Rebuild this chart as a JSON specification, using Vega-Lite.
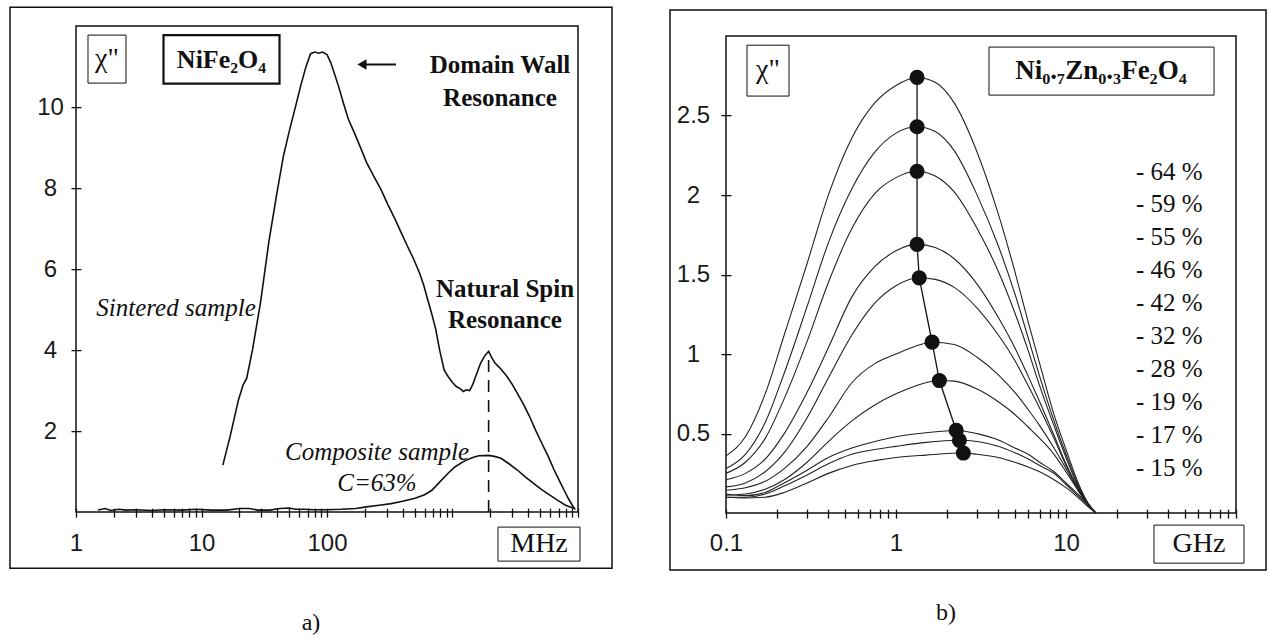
{
  "$schema": "https://vega.github.io/schema/vega-lite/v6.json",
  "padding": {"left": 8, "top": 5, "right": 0, "bottom": 0},
  "background": "white",
  "spacing": 54,
  "bounds": "full",
  "center": true,
  "config": {
    "view": {"stroke": "#111", "strokeWidth": 1.5},
    "axis": {"grid": false, "domain": false, "tickColor": "#111", "tickWidth": 1.3, "labelFont": "Liberation Sans", "labelFontSize": 24, "labelColor": "#1a1a1a", "labelOverlap": false, "labelFlush": false},
    "text": {"font": "Liberation Serif", "color": "#111"}
  },
  "datasets": {
    "nife": [
      {"s":"sintered","f":14.8,"chi":1.16},{"s":"sintered","f":17,"chi":1.9},{"s":"sintered","f":19.7,"chi":2.77},{"s":"sintered","f":21.5,"chi":3.15},{"s":"sintered","f":22.9,"chi":3.3},{"s":"sintered","f":25.5,"chi":4.01},{"s":"sintered","f":29.6,"chi":5.2},{"s":"sintered","f":34.5,"chi":6.7},{"s":"sintered","f":40,"chi":7.9},{"s":"sintered","f":45,"chi":8.8},{"s":"sintered","f":50,"chi":9.4},{"s":"sintered","f":56,"chi":10.0},{"s":"sintered","f":62,"chi":10.55},{"s":"sintered","f":68,"chi":11.0},{"s":"sintered","f":74,"chi":11.32},{"s":"sintered","f":80,"chi":11.36},{"s":"sintered","f":86,"chi":11.33},{"s":"sintered","f":92,"chi":11.36},{"s":"sintered","f":100,"chi":11.3},{"s":"sintered","f":107,"chi":11.1},{"s":"sintered","f":114,"chi":10.85},{"s":"sintered","f":124,"chi":10.5},{"s":"sintered","f":135,"chi":10.1},{"s":"sintered","f":148,"chi":9.7},{"s":"sintered","f":165,"chi":9.37},{"s":"sintered","f":185,"chi":9.0},{"s":"sintered","f":207,"chi":8.63},{"s":"sintered","f":235,"chi":8.3},{"s":"sintered","f":269,"chi":7.97},{"s":"sintered","f":305,"chi":7.6},{"s":"sintered","f":349,"chi":7.23},{"s":"sintered","f":390,"chi":6.9},{"s":"sintered","f":437,"chi":6.57},{"s":"sintered","f":490,"chi":6.25},{"s":"sintered","f":547,"chi":5.9},{"s":"sintered","f":590,"chi":5.6},{"s":"sintered","f":634,"chi":5.25},{"s":"sintered","f":690,"chi":4.85},{"s":"sintered","f":737,"chi":4.5},{"s":"sintered","f":790,"chi":4.0},{"s":"sintered","f":857,"chi":3.51},{"s":"sintered","f":922,"chi":3.35},{"s":"sintered","f":1000,"chi":3.2},{"s":"sintered","f":1071,"chi":3.1},{"s":"sintered","f":1150,"chi":3.05},{"s":"sintered","f":1220,"chi":2.98},{"s":"sintered","f":1290,"chi":3.02},{"s":"sintered","f":1370,"chi":3.0},{"s":"sintered","f":1445,"chi":3.14},{"s":"sintered","f":1550,"chi":3.4},{"s":"sintered","f":1676,"chi":3.68},{"s":"sintered","f":1800,"chi":3.85},{"s":"sintered","f":1940,"chi":3.97},{"s":"sintered","f":2050,"chi":3.82},{"s":"sintered","f":2180,"chi":3.68},{"s":"sintered","f":2400,"chi":3.55},{"s":"sintered","f":2718,"chi":3.35},{"s":"sintered","f":3000,"chi":3.15},{"s":"sintered","f":3288,"chi":2.93},{"s":"sintered","f":3700,"chi":2.65},{"s":"sintered","f":4112,"chi":2.36},{"s":"sintered","f":4600,"chi":2.02},{"s":"sintered","f":5145,"chi":1.7},{"s":"sintered","f":5800,"chi":1.37},{"s":"sintered","f":6457,"chi":1.04},{"s":"sintered","f":7100,"chi":0.78},{"s":"sintered","f":7760,"chi":0.54},{"s":"sintered","f":8400,"chi":0.33},{"s":"sintered","f":9010,"chi":0.17},{"s":"sintered","f":9500,"chi":0.06},
      {"s":"composite","f":1.5,"chi":0.05},{"s":"composite","f":1.7,"chi":0.09},{"s":"composite","f":1.9,"chi":0.04},{"s":"composite","f":2.2,"chi":0.07},{"s":"composite","f":2.5,"chi":0.05},{"s":"composite","f":3,"chi":0.06},{"s":"composite","f":4,"chi":0.04},{"s":"composite","f":5,"chi":0.06},{"s":"composite","f":7,"chi":0.05},{"s":"composite","f":9,"chi":0.07},{"s":"composite","f":12,"chi":0.05},{"s":"composite","f":16,"chi":0.05},{"s":"composite","f":20,"chi":0.09},{"s":"composite","f":24,"chi":0.09},{"s":"composite","f":28,"chi":0.05},{"s":"composite","f":35,"chi":0.05},{"s":"composite","f":42,"chi":0.09},{"s":"composite","f":50,"chi":0.1},{"s":"composite","f":56,"chi":0.07},{"s":"composite","f":65,"chi":0.07},{"s":"composite","f":80,"chi":0.06},{"s":"composite","f":100,"chi":0.06},{"s":"composite","f":130,"chi":0.07},{"s":"composite","f":170,"chi":0.09},{"s":"composite","f":206,"chi":0.13},{"s":"composite","f":260,"chi":0.17},{"s":"composite","f":324,"chi":0.21},{"s":"composite","f":400,"chi":0.27},{"s":"composite","f":503,"chi":0.34},{"s":"composite","f":600,"chi":0.43},{"s":"composite","f":684,"chi":0.54},{"s":"composite","f":800,"chi":0.76},{"s":"composite","f":922,"chi":0.96},{"s":"composite","f":1050,"chi":1.12},{"s":"composite","f":1240,"chi":1.26},{"s":"composite","f":1450,"chi":1.35},{"s":"composite","f":1620,"chi":1.39},{"s":"composite","f":1950,"chi":1.4},{"s":"composite","f":2200,"chi":1.37},{"s":"composite","f":2434,"chi":1.33},{"s":"composite","f":2800,"chi":1.2},{"s":"composite","f":3288,"chi":1.04},{"s":"composite","f":3800,"chi":0.87},{"s":"composite","f":4427,"chi":0.71},{"s":"composite","f":5100,"chi":0.56},{"s":"composite","f":5970,"chi":0.42},{"s":"composite","f":6900,"chi":0.29},{"s":"composite","f":7950,"chi":0.17},{"s":"composite","f":9340,"chi":0.09}
    ],
    "nizn": [
      {"c":"64","f":0.1,"chi":0.36},{"c":"64","f":0.13,"chi":0.48},{"c":"64","f":0.17,"chi":0.75},{"c":"64","f":0.22,"chi":1.12},{"c":"64","f":0.3,"chi":1.57},{"c":"64","f":0.4,"chi":2.0},{"c":"64","f":0.55,"chi":2.36},{"c":"64","f":0.75,"chi":2.58},{"c":"64","f":1.0,"chi":2.69},{"c":"64","f":1.33,"chi":2.74},{"c":"64","f":1.7,"chi":2.71},{"c":"64","f":2.2,"chi":2.58},{"c":"64","f":3,"chi":2.27},{"c":"64","f":4,"chi":1.88},{"c":"64","f":5,"chi":1.52},{"c":"64","f":6,"chi":1.2},{"c":"64","f":7,"chi":0.94},{"c":"64","f":8.5,"chi":0.62},{"c":"64","f":10,"chi":0.4},{"c":"64","f":12,"chi":0.17},{"c":"64","f":13.5,"chi":0.06},{"c":"64","f":15,"chi":0.0},
      {"c":"59","f":0.1,"chi":0.28},{"c":"59","f":0.13,"chi":0.37},{"c":"59","f":0.17,"chi":0.57},{"c":"59","f":0.22,"chi":0.88},{"c":"59","f":0.3,"chi":1.3},{"c":"59","f":0.4,"chi":1.7},{"c":"59","f":0.55,"chi":2.04},{"c":"59","f":0.75,"chi":2.27},{"c":"59","f":1.0,"chi":2.39},{"c":"59","f":1.33,"chi":2.43},{"c":"59","f":1.7,"chi":2.4},{"c":"59","f":2.2,"chi":2.28},{"c":"59","f":3,"chi":2.0},{"c":"59","f":4,"chi":1.68},{"c":"59","f":5,"chi":1.38},{"c":"59","f":6,"chi":1.1},{"c":"59","f":7,"chi":0.86},{"c":"59","f":8.5,"chi":0.58},{"c":"59","f":10,"chi":0.37},{"c":"59","f":12,"chi":0.16},{"c":"59","f":13.5,"chi":0.06},{"c":"59","f":15,"chi":0.0},
      {"c":"55","f":0.1,"chi":0.25},{"c":"55","f":0.13,"chi":0.32},{"c":"55","f":0.17,"chi":0.47},{"c":"55","f":0.22,"chi":0.72},{"c":"55","f":0.3,"chi":1.08},{"c":"55","f":0.4,"chi":1.45},{"c":"55","f":0.55,"chi":1.79},{"c":"55","f":0.75,"chi":2.01},{"c":"55","f":1.0,"chi":2.11},{"c":"55","f":1.33,"chi":2.15},{"c":"55","f":1.7,"chi":2.12},{"c":"55","f":2.2,"chi":2.02},{"c":"55","f":3,"chi":1.79},{"c":"55","f":4,"chi":1.52},{"c":"55","f":5,"chi":1.26},{"c":"55","f":6,"chi":1.02},{"c":"55","f":7,"chi":0.8},{"c":"55","f":8.5,"chi":0.55},{"c":"55","f":10,"chi":0.35},{"c":"55","f":12,"chi":0.15},{"c":"55","f":13.5,"chi":0.06},{"c":"55","f":15,"chi":0.0},
      {"c":"46","f":0.1,"chi":0.21},{"c":"46","f":0.13,"chi":0.25},{"c":"46","f":0.17,"chi":0.34},{"c":"46","f":0.22,"chi":0.5},{"c":"46","f":0.3,"chi":0.76},{"c":"46","f":0.4,"chi":1.04},{"c":"46","f":0.55,"chi":1.36},{"c":"46","f":0.75,"chi":1.55},{"c":"46","f":1.0,"chi":1.65},{"c":"46","f":1.33,"chi":1.69},{"c":"46","f":1.7,"chi":1.67},{"c":"46","f":2.2,"chi":1.6},{"c":"46","f":3,"chi":1.44},{"c":"46","f":4,"chi":1.23},{"c":"46","f":5,"chi":1.04},{"c":"46","f":6,"chi":0.86},{"c":"46","f":7,"chi":0.7},{"c":"46","f":8.5,"chi":0.49},{"c":"46","f":10,"chi":0.31},{"c":"46","f":12,"chi":0.14},{"c":"46","f":13.5,"chi":0.05},{"c":"46","f":15,"chi":0.0},
      {"c":"42","f":0.1,"chi":0.165},{"c":"42","f":0.13,"chi":0.19},{"c":"42","f":0.17,"chi":0.26},{"c":"42","f":0.22,"chi":0.38},{"c":"42","f":0.3,"chi":0.6},{"c":"42","f":0.4,"chi":0.85},{"c":"42","f":0.55,"chi":1.12},{"c":"42","f":0.75,"chi":1.32},{"c":"42","f":1.0,"chi":1.43},{"c":"42","f":1.37,"chi":1.48},{"c":"42","f":1.7,"chi":1.47},{"c":"42","f":2.2,"chi":1.42},{"c":"42","f":3,"chi":1.29},{"c":"42","f":4,"chi":1.12},{"c":"42","f":5,"chi":0.96},{"c":"42","f":6,"chi":0.8},{"c":"42","f":7,"chi":0.66},{"c":"42","f":8.5,"chi":0.47},{"c":"42","f":10,"chi":0.3},{"c":"42","f":12,"chi":0.14},{"c":"42","f":13.5,"chi":0.05},{"c":"42","f":15,"chi":0.0},
      {"c":"32","f":0.1,"chi":0.144},{"c":"32","f":0.13,"chi":0.16},{"c":"32","f":0.17,"chi":0.2},{"c":"32","f":0.22,"chi":0.28},{"c":"32","f":0.3,"chi":0.42},{"c":"32","f":0.4,"chi":0.6},{"c":"32","f":0.55,"chi":0.82},{"c":"32","f":0.75,"chi":0.94},{"c":"32","f":1.0,"chi":1.0},{"c":"32","f":1.3,"chi":1.05},{"c":"32","f":1.63,"chi":1.075},{"c":"32","f":2.2,"chi":1.06},{"c":"32","f":3,"chi":0.98},{"c":"32","f":4,"chi":0.87},{"c":"32","f":5,"chi":0.76},{"c":"32","f":6,"chi":0.65},{"c":"32","f":7,"chi":0.55},{"c":"32","f":8.5,"chi":0.41},{"c":"32","f":10,"chi":0.28},{"c":"32","f":12,"chi":0.13},{"c":"32","f":13.5,"chi":0.05},{"c":"32","f":15,"chi":0.0},
      {"c":"28","f":0.1,"chi":0.113},{"c":"28","f":0.13,"chi":0.12},{"c":"28","f":0.17,"chi":0.15},{"c":"28","f":0.22,"chi":0.21},{"c":"28","f":0.3,"chi":0.32},{"c":"28","f":0.4,"chi":0.45},{"c":"28","f":0.55,"chi":0.58},{"c":"28","f":0.75,"chi":0.68},{"c":"28","f":1.0,"chi":0.75},{"c":"28","f":1.3,"chi":0.8},{"c":"28","f":1.8,"chi":0.834},{"c":"28","f":2.2,"chi":0.83},{"c":"28","f":3,"chi":0.78},{"c":"28","f":4,"chi":0.7},{"c":"28","f":5,"chi":0.62},{"c":"28","f":6,"chi":0.54},{"c":"28","f":7,"chi":0.47},{"c":"28","f":8.5,"chi":0.37},{"c":"28","f":10,"chi":0.26},{"c":"28","f":12,"chi":0.13},{"c":"28","f":13.5,"chi":0.05},{"c":"28","f":15,"chi":0.0},
      {"c":"19","f":0.1,"chi":0.12},{"c":"19","f":0.13,"chi":0.11},{"c":"19","f":0.17,"chi":0.13},{"c":"19","f":0.22,"chi":0.19},{"c":"19","f":0.3,"chi":0.27},{"c":"19","f":0.4,"chi":0.35},{"c":"19","f":0.55,"chi":0.41},{"c":"19","f":0.75,"chi":0.45},{"c":"19","f":1.0,"chi":0.48},{"c":"19","f":1.5,"chi":0.505},{"c":"19","f":2.26,"chi":0.52},{"c":"19","f":3,"chi":0.5},{"c":"19","f":4,"chi":0.46},{"c":"19","f":5,"chi":0.41},{"c":"19","f":6,"chi":0.37},{"c":"19","f":7,"chi":0.32},{"c":"19","f":8.5,"chi":0.26},{"c":"19","f":10,"chi":0.19},{"c":"19","f":12,"chi":0.11},{"c":"19","f":13.5,"chi":0.05},{"c":"19","f":15,"chi":0.0},
      {"c":"17","f":0.1,"chi":0.1},{"c":"17","f":0.13,"chi":0.1},{"c":"17","f":0.17,"chi":0.12},{"c":"17","f":0.22,"chi":0.17},{"c":"17","f":0.3,"chi":0.24},{"c":"17","f":0.4,"chi":0.31},{"c":"17","f":0.55,"chi":0.37},{"c":"17","f":0.75,"chi":0.4},{"c":"17","f":1.0,"chi":0.42},{"c":"17","f":1.5,"chi":0.445},{"c":"17","f":2.36,"chi":0.458},{"c":"17","f":3,"chi":0.45},{"c":"17","f":4,"chi":0.42},{"c":"17","f":5,"chi":0.38},{"c":"17","f":6,"chi":0.34},{"c":"17","f":7,"chi":0.3},{"c":"17","f":8.5,"chi":0.25},{"c":"17","f":10,"chi":0.18},{"c":"17","f":12,"chi":0.1},{"c":"17","f":13.5,"chi":0.05},{"c":"17","f":15,"chi":0.0},
      {"c":"15","f":0.1,"chi":0.1},{"c":"15","f":0.13,"chi":0.095},{"c":"15","f":0.17,"chi":0.1},{"c":"15","f":0.22,"chi":0.13},{"c":"15","f":0.3,"chi":0.19},{"c":"15","f":0.4,"chi":0.25},{"c":"15","f":0.55,"chi":0.3},{"c":"15","f":0.75,"chi":0.33},{"c":"15","f":1.0,"chi":0.35},{"c":"15","f":1.5,"chi":0.365},{"c":"15","f":2.49,"chi":0.378},{"c":"15","f":3,"chi":0.37},{"c":"15","f":4,"chi":0.35},{"c":"15","f":5,"chi":0.32},{"c":"15","f":6,"chi":0.29},{"c":"15","f":7,"chi":0.26},{"c":"15","f":8.5,"chi":0.21},{"c":"15","f":10,"chi":0.16},{"c":"15","f":12,"chi":0.09},{"c":"15","f":13.5,"chi":0.04},{"c":"15","f":15,"chi":0.0}
    ]
  },
  "hconcat": [
    {
      "width": 502,
      "height": 486,
      "resolve": {"axis": {"x": "independent", "y": "independent"}},
      "layer": [
        {
          "data": {"name": "nife"},
          "mark": {"type": "line", "color": "#111", "strokeWidth": 1.6},
          "encoding": {
            "x": {"field": "f", "type": "quantitative", "scale": {"type": "log", "domain": [1, 10000], "nice": false},
              "axis": {"orient": "bottom", "values": [1,2,3,4,5,6,7,8,9,10,20,30,40,50,60,70,80,90,100,200,300,400,500,600,700,800,900,1000,2000,3000,4000,5000,6000,7000,8000,9000,10000],
                "labelExpr": "datum.value == 1 ? '1' : datum.value == 10 ? '10' : datum.value == 100 ? '100' : ''",
                "tickSize": 9, "offset": -4, "labelPadding": 14, "title": null}},
            "y": {"field": "chi", "type": "quantitative", "scale": {"domain": [0, 12], "nice": false},
              "axis": {"orient": "left", "values": [2,4,6,8,10], "tickSize": 10, "offset": -5, "labelAlign": "center", "labelPadding": 21, "title": null}},
            "detail": {"field": "s"}
          }
        },
        {
          "data": {"values": [{}]},
          "mark": {"type": "rule", "color": "#111", "strokeWidth": 1.6, "strokeDash": [12, 8]},
          "encoding": {"x": {"datum": 1940, "type": "quantitative", "axis": null}, "y": {"datum": 0, "type": "quantitative", "axis": null}, "y2": {"datum": 3.97}}
        },
        {
          "data": {"values": [{}]},
          "mark": {"type": "rect", "fill": "transparent", "stroke": "#111", "strokeWidth": 1.5},
          "encoding": {"x": {"datum": 0.2979, "type": "quantitative", "axis": null}, "x2": {"datum": 18663}, "y": {"datum": 12.469, "type": "quantitative", "axis": null}, "y2": {"datum": -1.383}}
        },
        {
          "data": {"values": [{}]},
          "mark": {"type": "rect", "fill": "transparent", "stroke": "#111", "strokeWidth": 1},
          "encoding": {"x": {"datum": 1.246, "type": "quantitative", "axis": null}, "x2": {"datum": 2.502}, "y": {"datum": 11.778, "type": "quantitative", "axis": null}, "y2": {"datum": 10.593}}
        },
        {
          "data": {"values": [{}]},
          "mark": {"type": "text", "text": "χ\"", "font": "Liberation Serif", "fontSize": 28, "align": "center", "baseline": "middle"},
          "encoding": {"x": {"datum": 1.766, "type": "quantitative", "axis": null}, "y": {"datum": 11.185, "type": "quantitative", "axis": null}}
        },
        {
          "data": {"values": [{}]},
          "mark": {"type": "rect", "fill": "transparent", "stroke": "#111", "strokeWidth": 2.2},
          "encoding": {"x": {"datum": 4.98, "type": "quantitative", "axis": null}, "x2": {"datum": 41.84}, "y": {"datum": 11.778, "type": "quantitative", "axis": null}, "y2": {"datum": 10.58}}
        },
        {
          "data": {"values": [{}]},
          "mark": {"type": "text", "text": "NiFe₂O₄", "font": "Liberation Serif", "fontSize": 26, "fontWeight": "bold", "align": "center", "baseline": "middle"},
          "encoding": {"x": {"datum": 14.43, "type": "quantitative", "axis": null}, "y": {"datum": 11.17, "type": "quantitative", "axis": null}}
        },
        {
          "data": {"values": [{}]},
          "mark": {"type": "rule", "color": "#111", "strokeWidth": 2},
          "encoding": {"x": {"datum": 195, "type": "quantitative", "axis": null}, "x2": {"datum": 354.6}, "y": {"datum": 11.05, "type": "quantitative", "axis": null}}
        },
        {
          "data": {"values": [{}]},
          "mark": {"type": "point", "shape": "triangle-left", "filled": true, "color": "#111", "size": 110, "opacity": 1},
          "encoding": {"x": {"datum": 190, "type": "quantitative", "axis": null}, "y": {"datum": 11.05, "type": "quantitative", "axis": null}}
        },
        {
          "data": {"values": [{}]},
          "mark": {"type": "text", "text": ["Domain Wall", "Resonance"], "font": "Liberation Serif", "fontSize": 25, "fontWeight": "bold", "lineHeight": 33, "align": "center", "baseline": "middle"},
          "encoding": {"x": {"datum": 2391, "type": "quantitative", "axis": null}, "y": {"datum": 11.04, "type": "quantitative", "axis": null}}
        },
        {
          "data": {"values": [{}]},
          "mark": {"type": "text", "text": ["Natural Spin", "Resonance"], "font": "Liberation Serif", "fontSize": 25, "fontWeight": "bold", "lineHeight": 31, "align": "center", "baseline": "middle"},
          "encoding": {"x": {"datum": 2620, "type": "quantitative", "axis": null}, "y": {"datum": 5.506, "type": "quantitative", "axis": null}}
        },
        {
          "data": {"values": [{}]},
          "mark": {"type": "text", "text": "Sintered sample", "font": "Liberation Serif", "fontSize": 25, "fontStyle": "italic", "align": "center", "baseline": "middle"},
          "encoding": {"x": {"datum": 6.263, "type": "quantitative", "axis": null}, "y": {"datum": 5.037, "type": "quantitative", "axis": null}}
        },
        {
          "data": {"values": [{}]},
          "mark": {"type": "text", "text": ["Composite sample", "C=63%"], "font": "Liberation Serif", "fontSize": 25, "fontStyle": "italic", "lineHeight": 31, "align": "center", "baseline": "middle"},
          "encoding": {"x": {"datum": 250.2, "type": "quantitative", "axis": null}, "y": {"datum": 1.481, "type": "quantitative", "axis": null}}
        },
        {
          "data": {"values": [{}]},
          "mark": {"type": "rect", "fill": "transparent", "stroke": "#111", "strokeWidth": 1},
          "encoding": {"x": {"datum": 2304, "type": "quantitative", "axis": null}, "x2": {"datum": 10373}, "y": {"datum": -0.37, "type": "quantitative", "axis": null}, "y2": {"datum": -1.21}}
        },
        {
          "data": {"values": [{}]},
          "mark": {"type": "text", "text": "MHz", "font": "Liberation Serif", "fontSize": 28, "align": "center", "baseline": "middle"},
          "encoding": {"x": {"datum": 4889, "type": "quantitative", "axis": null}, "y": {"datum": -0.79, "type": "quantitative", "axis": null}}
        },
        {
          "data": {"values": [{}]},
          "mark": {"type": "text", "text": "a)", "font": "Liberation Serif", "fontSize": 24, "align": "center", "baseline": "middle"},
          "encoding": {"x": {"datum": 74.6, "type": "quantitative", "axis": null}, "y": {"datum": -2.741, "type": "quantitative", "axis": null}}
        }
      ]
    },
    {
      "width": 510,
      "height": 477,
      "resolve": {"axis": {"x": "independent", "y": "independent"}},
      "layer": [
        {
          "data": {"name": "nizn"},
          "mark": {"type": "line", "strokeWidth": 1.1, "interpolate": "monotone"},
          "encoding": {
            "x": {"field": "f", "type": "quantitative", "scale": {"type": "log", "domain": [0.1, 100], "nice": false},
              "axis": {"orient": "bottom", "values": [0.1,0.2,0.3,0.4,0.5,0.6,0.7,0.8,0.9,1,2,3,4,5,6,7,8,9,10,20,30,40,50,60,70,80,90,100],
                "labelExpr": "datum.value == 0.1 ? '0.1' : datum.value == 1 ? '1' : datum.value == 10 ? '10' : ''",
                "tickSize": 9, "offset": -4, "labelPadding": 13, "title": null}},
            "y": {"field": "chi", "type": "quantitative", "scale": {"domain": [0, 3], "nice": false},
              "axis": {"orient": "left", "values": [0.5,1,1.5,2,2.5], "format": "~g", "tickSize": 10, "offset": -5, "labelAlign": "center", "labelPadding": 28, "title": null}},
            "color": {"field": "c", "type": "nominal", "sort": "descending", "scale": {"range": ["#222"]},
              "legend": {"orient": "none", "legendX": 1035, "legendY": 133, "title": null, "symbolSize": 0, "symbolStrokeWidth": 0, "symbolOpacity": 0, "labelFont": "Liberation Serif", "labelFontSize": 25, "labelColor": "#111", "rowPadding": 6.9, "labelOffset": 0, "padding": 0, "labelExpr": "'- ' + datum.label + ' %'"}}
          }
        },
        {
          "data": {"name": "nizn"},
          "transform": [
            {"joinaggregate": [{"op": "max", "field": "chi", "as": "mx"}], "groupby": ["c"]},
            {"filter": "datum.chi == datum.mx"}
          ],
          "mark": {"type": "line", "color": "#111", "strokeWidth": 1.3},
          "encoding": {
            "x": {"field": "f", "type": "quantitative", "axis": null},
            "y": {"field": "chi", "type": "quantitative", "axis": null},
            "order": {"field": "chi", "type": "quantitative", "sort": "descending"}
          }
        },
        {
          "data": {"name": "nizn"},
          "transform": [
            {"joinaggregate": [{"op": "max", "field": "chi", "as": "mx"}], "groupby": ["c"]},
            {"filter": "datum.chi == datum.mx"}
          ],
          "mark": {"type": "point", "filled": true, "color": "#111", "size": 230, "opacity": 1},
          "encoding": {
            "x": {"field": "f", "type": "quantitative", "axis": null},
            "y": {"field": "chi", "type": "quantitative", "axis": null}
          }
        },
        {
          "data": {"values": [{}]},
          "mark": {"type": "rect", "fill": "transparent", "stroke": "#111", "strokeWidth": 1.5},
          "encoding": {"x": {"datum": 0.04684, "type": "quantitative", "axis": null}, "x2": {"datum": 150.2}, "y": {"datum": 3.164, "type": "quantitative", "axis": null}, "y2": {"datum": -0.3585}}
        },
        {
          "data": {"values": [{}]},
          "mark": {"type": "rect", "fill": "transparent", "stroke": "#111", "strokeWidth": 1},
          "encoding": {"x": {"datum": 0.1329, "type": "quantitative", "axis": null}, "x2": {"datum": 0.2348}, "y": {"datum": 2.943, "type": "quantitative", "axis": null}, "y2": {"datum": 2.623}}
        },
        {
          "data": {"values": [{}]},
          "mark": {"type": "text", "text": "χ\"", "font": "Liberation Serif", "fontSize": 28, "align": "center", "baseline": "middle"},
          "encoding": {"x": {"datum": 0.1766, "type": "quantitative", "axis": null}, "y": {"datum": 2.786, "type": "quantitative", "axis": null}}
        },
        {
          "data": {"values": [{}]},
          "mark": {"type": "rect", "fill": "transparent", "stroke": "#111", "strokeWidth": 1},
          "encoding": {"x": {"datum": 3.524, "type": "quantitative", "axis": null}, "x2": {"datum": 74.25}, "y": {"datum": 2.931, "type": "quantitative", "axis": null}, "y2": {"datum": 2.629}}
        },
        {
          "data": {"values": [{}]},
          "mark": {"type": "text", "text": "Ni₀.₇Zn₀.₃Fe₂O₄", "font": "Liberation Serif", "fontSize": 27, "fontWeight": "bold", "align": "center", "baseline": "middle"},
          "encoding": {"x": {"datum": 16.07, "type": "quantitative", "axis": null}, "y": {"datum": 2.78, "type": "quantitative", "axis": null}}
        },
        {
          "data": {"values": [{}]},
          "mark": {"type": "rect", "fill": "transparent", "stroke": "#111", "strokeWidth": 1},
          "encoding": {"x": {"datum": 32.93, "type": "quantitative", "axis": null}, "x2": {"datum": 111.4}, "y": {"datum": -0.0755, "type": "quantitative", "axis": null}, "y2": {"datum": -0.3145}}
        },
        {
          "data": {"values": [{}]},
          "mark": {"type": "text", "text": "GHz", "font": "Liberation Serif", "fontSize": 28, "align": "center", "baseline": "middle"},
          "encoding": {"x": {"datum": 60.59, "type": "quantitative", "axis": null}, "y": {"datum": -0.195, "type": "quantitative", "axis": null}}
        },
        {
          "data": {"values": [{}]},
          "mark": {"type": "text", "text": "b)", "font": "Liberation Serif", "fontSize": 24, "align": "center", "baseline": "middle"},
          "encoding": {"x": {"datum": 1.968, "type": "quantitative", "axis": null}, "y": {"datum": -0.629, "type": "quantitative", "axis": null}}
        }
      ]
    }
  ]
}
